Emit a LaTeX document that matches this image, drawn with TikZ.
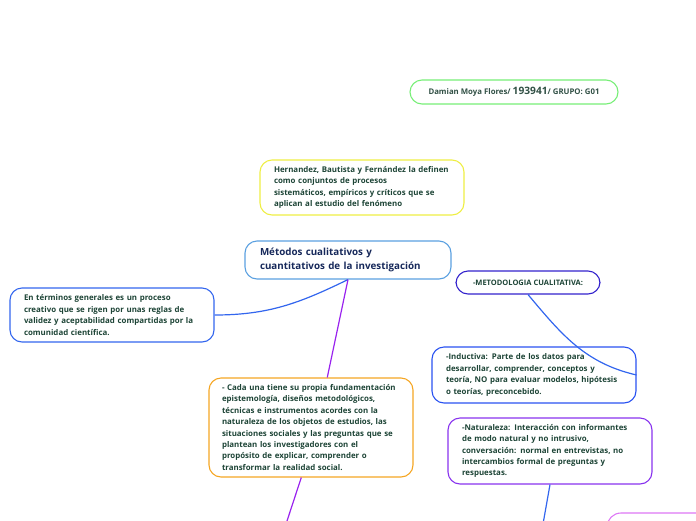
\documentclass[tikz,border=0pt]{standalone}
\usepackage{fontspec}
\setmainfont{Open Sans}
\usepackage{xcolor}
\usetikzlibrary{positioning}

\definecolor{textgreen}{HTML}{1D4436}
\definecolor{textnavy}{HTML}{16285A}
\definecolor{boxgreen}{HTML}{77EE77}
\definecolor{boxyellow}{HTML}{EEEE44}
\definecolor{boxlightblue}{HTML}{5AA0E0}
\definecolor{boxblue}{HTML}{3366EE}
\definecolor{boxorange}{HTML}{F5A623}
\definecolor{boxindigo}{HTML}{3322CC}
\definecolor{boxpurple}{HTML}{8833EE}
\definecolor{boxpink}{HTML}{DD77F5}
\definecolor{linepurple}{HTML}{9922EE}

\tikzset{
  mapbox/.style={draw, rounded corners=12pt, line width=1.1pt, align=left,
    text=textgreen, font=\fontsize{7.9}{11.4}\selectfont\bfseries,
    minimum width=204pt, inner ysep=0pt, text width=176pt, inner xsep=14pt},
  mapline/.style={line width=1.2pt}
}

\begin{document}
\begin{tikzpicture}[x=1pt, y=1pt]
  \useasboundingbox (0,0) rectangle (696,-520);
  \clip (0,0) rectangle (696,-520);

  % === ENCABEZADO ===
  \node[mapbox, draw=boxgreen, align=center, text width=, inner xsep=4pt,
        minimum width=208pt, minimum height=24pt,
        text=textgreen!80!gray, font=\fontsize{7.8}{11}\selectfont\bfseries] (autor) at (514,-92)
    {Damian Moya Flores/ {\fontsize{10.2}{11}\selectfont 193941}/ GRUPO: G01};

  % === NODO CENTRAL ===
  \node[mapbox, draw=boxlightblue, minimum width=206pt, minimum height=38pt,
        text width=176pt, inner xsep=15pt, text=textnavy,
        font=\fontsize{9.8}{14}\selectfont\bfseries] (central) at (348,-260)
    {Métodos cualitativos y\\ cuantitativos de la investigación};

  \node[mapbox, draw=boxyellow, minimum height=55pt] (definicion) at (362,-187.5)
    {Hernandez, Bautista y Fernández la definen\\ como conjuntos de procesos\\
     sistemáticos, empíricos y críticos que se\\ aplican al estudio del fenómeno};

  % === RAMAS ===
  \node[mapbox, draw=boxblue, minimum height=54pt] (general) at (112,-315)
    {En términos generales es un proceso\\ creativo que se rigen por unas reglas de\\
     validez y aceptabilidad compartidas por la\\ comunidad científica.};

  \node[mapbox, draw=boxorange, minimum height=99pt, text width=178pt, inner xsep=13pt]
    (fundamento) at (311,-427.5)
    {- Cada una tiene su propia fundamentación\\ epistemología, diseños metodológicos,\\
     técnicas e instrumentos acordes con la\\ naturaleza de los objetos de estudios, las\\
     situaciones sociales y las preguntas que se\\ plantean los investigadores con el\\
     propósito de explicar, comprender o\\ transformar la realidad social.};

  % === METODOLOGIA CUALITATIVA ===
  \node[mapbox, draw=boxindigo, align=center, text width=, inner xsep=4pt,
        minimum width=144pt, minimum height=23pt,
        font=\fontsize{7.5}{9}\selectfont\bfseries] (cualitativa) at (528,-282.5)
    {-METODOLOGIA CUALITATIVA:};

  \node[mapbox, draw=boxblue!80!blue, minimum height=56pt] (inductiva) at (534,-375)
    {-Inductiva: Parte de los datos para\\ desarrollar, comprender, conceptos y\\
     teoría, NO para evaluar modelos, hipótesis\\ o teorías, preconcebido.};

  \node[mapbox, draw=boxpurple, minimum height=66pt] (naturaleza) at (550,-451)
    {-Naturaleza: Interacción con informantes\\ de modo natural y no intrusivo,\\
     conversación: normal en entrevistas, no\\ intercambios formal de preguntas y\\
     respuestas.};

  % Caja cortada en la esquina
  \draw[boxpink, line width=1.1pt, rounded corners=14pt] (607,-600) rectangle (780,-513);

  % === CONECTORES ===
  \coordinate (finfund) at (286,-524);
  \coordinate (finnat) at (543,-524);

  \draw[mapline, boxblue] (central.south) to[out=206, in=0] (general.east);
  \draw[mapline, linepurple] (central.south) -- (fundamento.72);
  \draw[mapline, linepurple] (fundamento.259) -- (finfund);
  \draw[mapline, boxblue] (cualitativa.south) to[out=-50, in=167] (inductiva.east);
  \draw[mapline, boxblue] (naturaleza.south) -- (finnat);
\end{tikzpicture}
\end{document}
